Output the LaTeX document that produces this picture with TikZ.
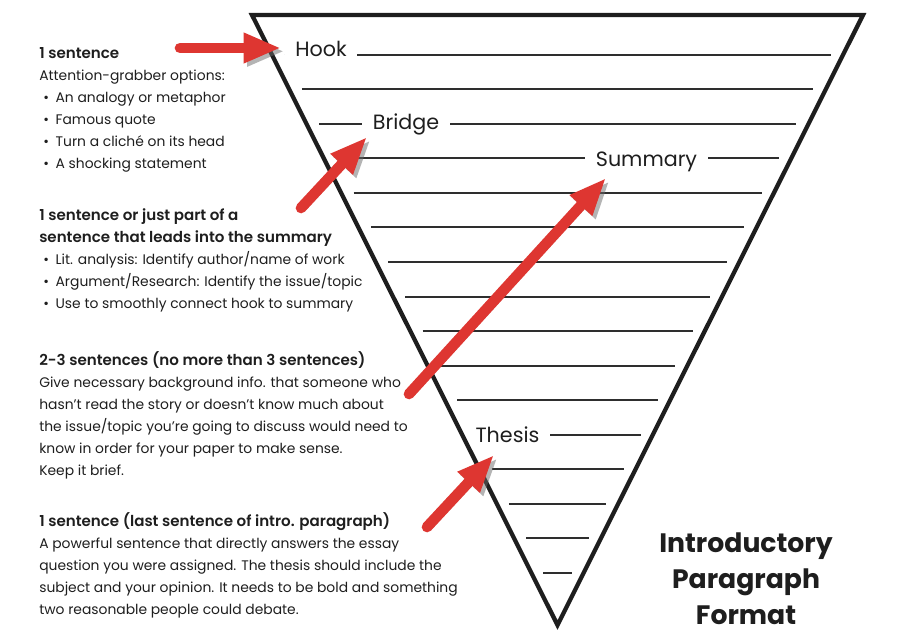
\documentclass[tikz,border=0pt]{standalone}
\usepackage{fontspec}
\setmainfont{Poppins}[BoldFont={Poppins SemiBold}]
\newfontfamily\titlefont{Poppins Bold}
\usetikzlibrary{arrows.meta, positioning, calc}
\definecolor{ArrowRed}{HTML}{DE3631}
\definecolor{Ink}{HTML}{1E1E1E}
\definecolor{RuleGray}{HTML}{2E2E2E}
\definecolor{ShadowGray}{HTML}{6A6A6A}
\newcommand{\bul}{\hspace*{3pt}\textbullet\hspace{5pt}}
\newcommand{\head}[1]{{\fontsize{11.3}{16.5}\selectfont\bfseries #1}}

\begin{document}
\begin{tikzpicture}[x=0.75pt, y=-0.75pt,
    every node/.style={text=Ink},
    note/.style={anchor=north west, align=left, inner sep=0pt,
        font=\fontsize{10.4}{16.5}\selectfont},
    funnellabel/.style={fill=white, inner xsep=8pt, inner ysep=1pt, anchor=base,
        font=\fontsize{15.5}{18}\selectfont},
    rule/.style={RuleGray, line width=1.5pt},
    funnel/.style={draw=Ink, line width=3.2pt, line join=miter},
    redarrow/.style={draw=ArrowRed, line width=8pt, line cap=round,
        -{Triangle[length=28pt, width=21pt]},
        preaction={draw=ShadowGray, opacity=0.5,
            transform canvas={shift={(2.5pt,-2.5pt)}}}},
]
\useasboundingbox (0,0) rectangle (898,641);

% =============================================
% FUNNEL LINES
% =============================================
\foreach \k in {0,...,15} {
    \pgfmathsetmacro{\ry}{55+34.5*\k}
    \draw[rule] ({252+0.5*(\ry-15)+12.5}, \ry) -- ({863-0.5*(\ry-15)-12.5}, \ry);
}

% === Labels on the lines ===
\node[funnellabel] (hook) at (321, 57) {Hook};
\node[funnellabel] (bridge) at (406, 130) {Bridge};
\node[funnellabel] (summary) at (646.5, 167) {Summary};
\node[funnellabel] (thesis) at (507.5, 442) {Thesis};

% === Funnel outline ===
\draw[funnel] (252,15) -- (863,15) -- (557.5,625) -- cycle;

% =============================================
% LEFT NOTES
% =============================================
\node[note] (hooknote) at (39, 47) {\head{1 sentence}\\
    Attention-grabber options:\\
    \bul An analogy or metaphor\\
    \bul Famous quote\\
    \bul Turn a cliché on its head\\
    \bul A shocking statement};

\node[note] (bridgenote) at (39, 208) {\head{1 sentence or just part of a}\\
    \head{sentence that leads into the summary}\\
    \bul Lit. analysis: Identify author/name of work\\
    \bul Argument/Research: Identify the issue/topic\\
    \bul Use to smoothly connect hook to summary};

\node[note] (summarynote) at (39, 351) {\head{2-3 sentences (no more than 3 sentences)}\\
    Give necessary background info. that someone who\\
    hasn’t read the story or doesn’t know much about\\
    the issue/topic you’re going to discuss would need to\\
    know in order for your paper to make sense.\\
    Keep it brief.};

\node[note] (thesisnote) at (39, 512) {\head{1 sentence (last sentence of intro. paragraph)}\\
    A powerful sentence that directly answers the essay\\
    question you were assigned. The thesis should include the\\
    subject and your opinion. It needs to be bold and something\\
    two reasonable people could debate.};

% === Title ===
\node[anchor=north, align=center, inner sep=0pt,
    font=\fontsize{20}{27}\selectfont\titlefont] (title) at (746, 532)
    {Introductory\\Paragraph\\Format};

% =============================================
% RED ARROWS
% =============================================
\coordinate (hooktail) at (180, 48);
\coordinate (hooktip) at (281, 48);
\coordinate (bridgetail) at (301, 208);
\coordinate (bridgetip) at (367, 137);
\coordinate (summarytail) at (409, 394);
\coordinate (summarytip) at (606, 178);
\coordinate (thesistail) at (427, 527);
\coordinate (thesistip) at (494, 455);

\draw[redarrow] (hooktail) -- (hooktip);
\draw[redarrow] (bridgetail) -- (bridgetip);
\draw[redarrow] (summarytail) -- (summarytip);
\draw[redarrow] (thesistail) -- (thesistip);

\end{tikzpicture}
\end{document}
